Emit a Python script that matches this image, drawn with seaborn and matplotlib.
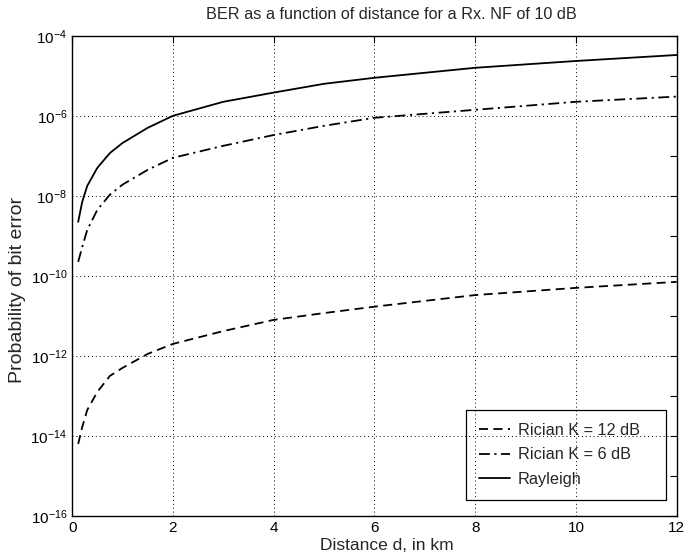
import numpy as np
import pandas as pd
import matplotlib
matplotlib.use("Agg")
import matplotlib.pyplot as plt
import matplotlib.ticker as mticker
import seaborn as sns

# Valores (exponente en base 10 de la BER)
distancia_km = [0.12, 0.2, 0.3, 0.5, 0.75, 1, 1.5, 2, 3, 4, 5, 6, 8, 10, 12]
log_ber_k12 = [-14.2, -13.78, -13.35, -12.9, -12.5, -12.3, -11.95, -11.7,
               -11.38, -11.1, -10.93, -10.77, -10.48, -10.3, -10.15]
log_ber_k6 = [-9.65, -9.28, -8.85, -8.35, -7.97, -7.72, -7.35, -7.05,
              -6.75, -6.48, -6.25, -6.05, -5.85, -5.65, -5.52]
log_ber_rayleigh = [-8.65, -8.15, -7.75, -7.3, -6.93, -6.68, -6.3, -6.0,
                    -5.65, -5.42, -5.2, -5.05, -4.8, -4.63, -4.48]

canales = ['Rician K = 12 dB', 'Rician K = 6 dB', 'Rayleigh']
series = [log_ber_k12, log_ber_k6, log_ber_rayleigh]

filas = []
for canal, valores in zip(canales, series):
    for d, lb in zip(distancia_km, valores):
        filas.append({'Distancia': d, 'BER': 10.0 ** lb, 'Canal': canal})
df = pd.DataFrame(filas)

sns.set_style("white")
plt.rcParams['font.family'] = ['Liberation Sans', 'DejaVu Sans']
plt.rcParams['mathtext.default'] = 'regular'

fig = plt.figure(figsize=(6.87, 5.59), dpi=100)
ax = fig.add_axes([0.105, 0.077, 0.88, 0.859])

sns.lineplot(
    data=df, x='Distancia', y='BER', hue='Canal', style='Canal',
    hue_order=canales, style_order=canales,
    palette={c: 'black' for c in canales},
    dashes={'Rician K = 12 dB': (5, 3), 'Rician K = 6 dB': (6, 2.5, 1.2, 2.5),
            'Rayleigh': ''},
    linewidth=1.3, ax=ax, legend=True
)

ax.set_yscale('log')
ax.set_xlim(0, 12)
ax.set_ylim(1e-16, 1e-4)
ax.set_xticks(range(0, 13, 2))

decadas = [10.0 ** e for e in range(-16, -3)]
ax.yaxis.set_major_locator(mticker.FixedLocator(decadas))
ax.yaxis.set_minor_locator(mticker.NullLocator())


def etiqueta(v, pos):
    e = int(round(np.log10(v)))
    if e % 2 == 0:
        return r'$10^{%d}$' % e
    return ''


ax.yaxis.set_major_formatter(mticker.FuncFormatter(etiqueta))

ax.tick_params(direction='in', top=True, right=True, length=5, width=0.8,
               labelsize=11, colors='black')
for s in ax.spines.values():
    s.set_color('black')
    s.set_linewidth(1.0)

# grid solo en decadas pares
for e in range(-14, -4, 2):
    ax.axhline(10.0 ** e, color='black', linestyle=(0, (1, 3)), linewidth=0.7, zorder=0)
for xv in range(2, 12, 2):
    ax.axvline(xv, color='black', linestyle=(0, (1, 3)), linewidth=0.7, zorder=0)

ax.set_title('BER as a function of distance for a Rx. NF of 10 dB', fontsize=11.7,
             pad=12, x=0.528)
ax.set_xlabel('Distance d, in km', fontsize=12.5, labelpad=2, x=0.52)
ax.set_ylabel('Probability of bit error', fontsize=14, labelpad=3, y=0.47)

# leyenda transparente (se ve la rejilla detras), caja mas ancha que el texto
handles, labels = ax.get_legend_handles_labels()
leg = ax.legend(handles, labels, loc='lower left',
                bbox_to_anchor=(0.651, 0.033, 0.332, 0.16), mode='expand',
                fontsize=11.7, frameon=True, fancybox=False,
                handlelength=1.9, handletextpad=0.5, borderaxespad=0.0,
                borderpad=0.8, labelspacing=0.6)
marco = leg.get_frame()
marco.set_alpha(None)
marco.set_facecolor('none')
marco.set_edgecolor('black')
marco.set_linewidth(0.9)

plt.savefig('out.png', dpi=100)
plt.close()
